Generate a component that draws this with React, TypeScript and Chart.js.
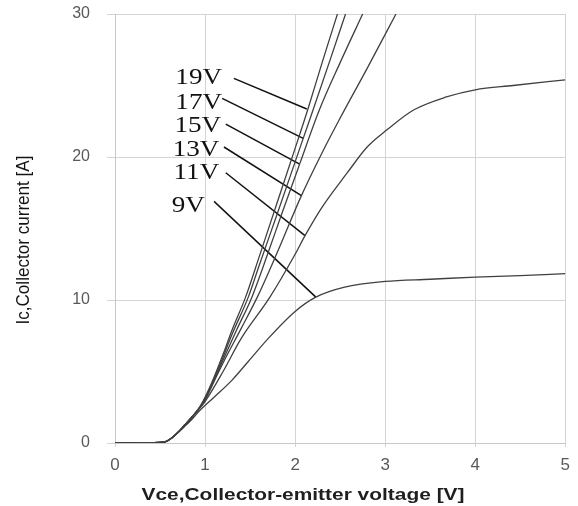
import React, { useEffect, useRef } from "react";
import { Chart, registerables } from "chart.js";

Chart.register(...registerables);

// Gate voltages (series names)
const gateLabels = ["19V", "17V", "15V", "13V", "11V", "9V"];

// Output characteristics: Vce [V] and Ic [A] for each gate voltage
const vce19 = [0, 0.3, 0.5, 0.57, 0.63, 0.7, 0.78, 0.86, 0.93, 1.0, 1.1, 1.2, 1.3, 1.45, 1.6, 1.8, 2.0, 2.14, 2.3, 2.47];
const ic19 = [0, 0.02, 0.04, 0.12, 0.35, 0.75, 1.3, 1.85, 2.4, 3.2, 4.6, 6.2, 7.9, 10.2, 13.0, 16.8, 20.6, 23.3, 26.6, 30];

const vce17 = [0, 0.3, 0.5, 0.57, 0.63, 0.7, 0.78, 0.86, 0.93, 1.0, 1.1, 1.2, 1.3, 1.48, 1.6, 1.8, 2.09, 2.2, 2.4, 2.56];
const ic17 = [0, 0.02, 0.04, 0.12, 0.35, 0.75, 1.3, 1.85, 2.4, 3.1, 4.5, 6.0, 7.6, 10.2, 12.4, 16.0, 21.3, 23.3, 27.0, 30];

const vce15 = [0, 0.3, 0.5, 0.57, 0.63, 0.7, 0.78, 0.86, 0.93, 1.0, 1.1, 1.2, 1.35, 1.52, 1.7, 1.85, 2.05, 2.27, 2.5, 2.75];
const ic15 = [0, 0.02, 0.04, 0.12, 0.35, 0.75, 1.3, 1.85, 2.4, 3.1, 4.4, 5.8, 7.9, 10.2, 13.3, 16.0, 19.5, 23.3, 26.6, 30];

const vce13 = [0, 0.3, 0.5, 0.57, 0.63, 0.7, 0.78, 0.86, 0.93, 1.0, 1.1, 1.2, 1.4, 1.58, 1.8, 2.07, 2.3, 2.49, 2.8, 3.12];
const ic13 = [0, 0.02, 0.04, 0.12, 0.35, 0.75, 1.3, 1.85, 2.4, 3.0, 4.3, 5.6, 8.0, 10.2, 13.3, 17.3, 20.3, 22.6, 26.2, 30];

const vce11 = [0, 0.3, 0.5, 0.57, 0.63, 0.7, 0.78, 0.86, 0.93, 1.0, 1.2, 1.4, 1.72, 2.0, 2.11, 2.3, 2.58, 2.8, 3.02, 3.32, 3.68, 4.0, 4.42, 5.0];
const ic11 = [0, 0.02, 0.04, 0.12, 0.35, 0.75, 1.3, 1.85, 2.35, 2.9, 5.0, 7.3, 10.2, 13.2, 14.5, 16.5, 18.9, 20.7, 21.9, 23.3, 24.2, 24.7, 25.0, 25.4];

const vce9 = [0, 0.3, 0.5, 0.57, 0.63, 0.7, 0.78, 0.86, 0.93, 1.1, 1.3, 1.48, 1.7, 2.0, 2.23, 2.55, 3.0, 3.5, 4.0, 4.5, 5.0];
const ic9 = [0, 0.02, 0.04, 0.12, 0.35, 0.72, 1.2, 1.7, 2.2, 3.2, 4.4, 5.7, 7.3, 9.2, 10.2, 10.9, 11.3, 11.45, 11.6, 11.7, 11.85];

// Annotation label anchors (data coordinates)
const labelV = [0.67, 0.67, 0.66, 0.64, 0.65, 0.63];
const labelI = [25.5, 23.8, 22.2, 20.5, 18.9, 16.6];

// Leader lines (data coordinates)
const leaderStartV = [1.32, 1.19, 1.23, 1.21, 1.23, 1.1];
const leaderStartI = [25.5, 24.1, 22.3, 20.7, 18.9, 16.9];
const leaderEndV = [2.13, 2.09, 2.05, 2.07, 2.11, 2.23];
const leaderEndI = [23.36, 21.3, 19.5, 17.3, 14.5, 10.2];

// Axes
const xMin = 0, xMax = 5, xStep = 1;
const yMin = 0, yMax = 30, yStep = 10;
const xTitle = "Vce,Collector-emitter voltage [V]";
const yTitle = "Ic,Collector current [A]";

const series = [
  [vce19, ic19],
  [vce17, ic17],
  [vce15, ic15],
  [vce13, ic13],
  [vce11, ic11],
  [vce9, ic9],
];

const zip = (xs: number[], ys: number[]) => xs.map((x, i) => ({ x, y: ys[i] }));

function fitText(ctx: CanvasRenderingContext2D, text: string, x: number, y: number, width: number, rotate: boolean) {
  const w = ctx.measureText(text).width;
  const k = width / w;
  ctx.save();
  ctx.translate(x, y);
  if (rotate) ctx.rotate(-Math.PI / 2);
  ctx.scale(k, 1);
  ctx.fillText(text, 0, 0);
  ctx.restore();
}

export default function App() {
  const ref = useRef<HTMLCanvasElement | null>(null);

  useEffect(() => {
    if (!ref.current) return;

    const curveSets = series.map(([xs, ys], i) => ({
      label: gateLabels[i],
      data: zip(xs, ys),
      borderColor: "#404040",
      borderWidth: 1.3,
      pointRadius: 0,
      cubicInterpolationMode: "monotone" as const,
      fill: false,
    }));

    const leaderSets = gateLabels.map((g, i) => ({
      label: g + " leader",
      data: [
        { x: leaderStartV[i], y: leaderStartI[i] },
        { x: leaderEndV[i], y: leaderEndI[i] },
      ],
      borderColor: "#111111",
      borderWidth: 1.5,
      pointRadius: 0,
      fill: false,
    }));

    const textPlugin = {
      id: "textPlugin",
      afterDraw(chart: any) {
        const { ctx, scales } = chart;
        const xs = scales.x;
        const ys = scales.y;
        ctx.save();
        // gate voltage labels
        ctx.fillStyle = "#111111";
        ctx.font = "23px 'Liberation Serif', 'Times New Roman', serif";
        ctx.textAlign = "left";
        ctx.textBaseline = "middle";
        gateLabels.forEach((g, i) => {
          const px = xs.getPixelForValue(labelV[i]);
          const py = ys.getPixelForValue(labelI[i]);
          ctx.save();
          ctx.translate(px, py);
          ctx.scale(1.18, 1);
          ctx.fillText(g, 0, 0);
          ctx.restore();
        });
        // x axis title
        ctx.fillStyle = "#1f1f1f";
        ctx.font = "bold 17px 'Liberation Sans', Arial, sans-serif";
        ctx.textAlign = "center";
        ctx.textBaseline = "middle";
        fitText(ctx, xTitle, 303, 495, 323, false);
        // y axis title
        ctx.fillStyle = "#141414";
        ctx.font = "18px 'Liberation Sans', Arial, sans-serif";
        fitText(ctx, yTitle, 24, 240, 169, true);
        ctx.restore();
      },
    };

    const chart = new Chart(ref.current, {
      type: "line",
      data: { datasets: [...curveSets, ...leaderSets] as any },
      options: {
        animation: false,
        responsive: false,
        devicePixelRatio: 1,
        layout: { padding: { top: 0, right: 8, left: 0, bottom: 0 } },
        plugins: {
          legend: { display: false },
          tooltip: { enabled: false },
        },
        scales: {
          x: {
            type: "linear",
            min: xMin,
            max: xMax,
            afterFit: (s: any) => {
              s.height = 63;
            },
            ticks: {
              stepSize: xStep,
              padding: 8,
              color: "#595959",
              font: { family: "'Liberation Sans', Arial, sans-serif", size: 17 },
            },
            grid: { color: "#d4d4d4", lineWidth: 1, tickLength: 4 },
            border: { color: "#c8c8c8" },
          },
          y: {
            type: "linear",
            min: yMin,
            max: yMax,
            afterFit: (s: any) => {
              s.width = 115;
              s.paddingTop = 14;
            },
            ticks: {
              stepSize: yStep,
              padding: 17,
              color: "#595959",
              font: { family: "'Liberation Sans', Arial, sans-serif", size: 16 },
            },
            grid: { color: "#d4d4d4", lineWidth: 1, tickLength: 8 },
            border: { color: "#c8c8c8" },
          },
        },
      } as any,
      plugins: [textPlugin],
    });

    return () => chart.destroy();
  }, []);

  return (
    <div style={{ position: "absolute", left: 0, top: 0, width: 578, height: 506, background: "#fff" }}>
      <canvas ref={ref} width={578} height={506} />
    </div>
  );
}
